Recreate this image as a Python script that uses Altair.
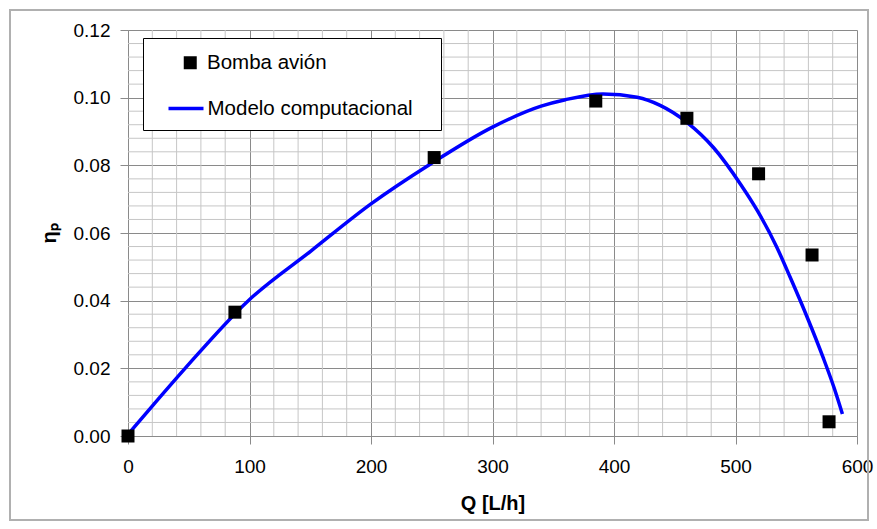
import altair as alt
import pandas as pd

# ---- data ----
serie_exp = "Bomba avión"
serie_mod = "Modelo computacional"

Q_exp = [0, 88, 252, 385, 460, 519, 563, 577]
eta_exp = [0.000, 0.0366, 0.0823, 0.0990, 0.0939, 0.0775, 0.0535, 0.0042]

Q_mod = [0, 21, 47, 99, 151, 200, 249, 300, 340, 360, 391, 419, 438, 460,
         482, 504, 518, 534, 545, 559, 572, 581, 588]
eta_mod = [0.0005, 0.0093, 0.0200, 0.0400, 0.0548, 0.0686, 0.0804, 0.0913,
           0.0975, 0.0994, 0.1011, 0.1001, 0.0977, 0.0927, 0.0852, 0.0745,
           0.0666, 0.0558, 0.0469, 0.0351, 0.0233, 0.0144, 0.0065]

x_labels = [0, 100, 200, 300, 400, 500, 600]
y_labels = [0.00, 0.02, 0.04, 0.06, 0.08, 0.10, 0.12]
x_minor = [20, 40, 60, 80, 120, 140, 160, 180, 220, 240, 260, 280, 320, 340,
           360, 380, 420, 440, 460, 480, 520, 540, 560, 580]
y_minor = [0.004, 0.008, 0.012, 0.016, 0.024, 0.028, 0.032, 0.036, 0.044,
           0.048, 0.052, 0.056, 0.064, 0.068, 0.072, 0.076, 0.084, 0.088,
           0.092, 0.096, 0.104, 0.108, 0.112, 0.116]

df_exp = pd.DataFrame({"Q": Q_exp, "eta": eta_exp, "serie_p": serie_exp})
df_mod = pd.DataFrame({"Q": Q_mod, "eta": eta_mod, "serie_l": serie_mod})

FONT = "Liberation Sans"
MAJ = "#8a8a8a"
MIN = "#c6c6c6"

x_scale = alt.Scale(domain=[0, 600], nice=False, zero=False)
y_scale = alt.Scale(domain=[0, 0.12], nice=False, zero=False)

x_axis = alt.Axis(
    values=x_labels, tickCount=50, title="Q [L/h]", format="d",
    labelOverlap=False, labelFlush=False,
    grid=True, gridColor=MAJ, gridWidth=1,
    tickColor=MAJ, tickSize=8, domainColor=MAJ,
    labelFont=FONT, labelFontSize=19, labelColor="black", labelPadding=13,
    titleFont=FONT, titleFontSize=20, titleFontWeight="bold", titleColor="black",
    titlePadding=17,
)
y_axis = alt.Axis(
    values=y_labels, tickCount=50, title="ηₚ", format=".2f",
    labelOverlap=False, labelFlush=False,
    grid=True, gridColor=MAJ, gridWidth=1,
    tickColor=MAJ, tickSize=8, domainColor=MAJ,
    labelFont=FONT, labelFontSize=19, labelColor="black", labelPadding=10,
    titleFont=FONT, titleFontSize=20, titleFontWeight="bold", titleColor="black",
    titlePadding=14,
)

one = pd.DataFrame({"a": [0]})

frame = alt.Chart(one).mark_rect(fill=None, stroke="#b0b0b0", strokeWidth=2).encode(
    x=alt.value(-118), x2=alt.value(740), y=alt.value(-20), y2=alt.value(490)
)

vgrid = alt.Chart(pd.DataFrame({"Q": x_minor})).mark_rule(color=MIN, strokeWidth=1).encode(
    x=alt.X("Q:Q", scale=x_scale, axis=x_axis)
)
hgrid = alt.Chart(pd.DataFrame({"eta": y_minor})).mark_rule(color=MIN, strokeWidth=1).encode(
    y=alt.Y("eta:Q", scale=y_scale, axis=y_axis)
)

legend_box = alt.Chart(one).mark_rect(fill="white", stroke="black", strokeWidth=1).encode(
    x=alt.value(15.5), x2=alt.value(313.5), y=alt.value(8.5), y2=alt.value(100.5)
)

line = alt.Chart(df_mod).mark_line(color="#0000ff", strokeWidth=3.5, interpolate="monotone").encode(
    x=alt.X("Q:Q", scale=x_scale, axis=x_axis),
    y=alt.Y("eta:Q", scale=y_scale, axis=y_axis),
    color=alt.Color("serie_l:N", scale=alt.Scale(domain=[serie_mod], range=["#0000ff"]),
                    legend=alt.Legend(orient="none", legendX=38.5, legendY=59, title=None,
                                      symbolType="stroke", symbolSize=1225, symbolStrokeWidth=3.5,
                                      labelFont=FONT, labelFontSize=20.5, labelColor="black",
                                      labelOffset=2, labelLimit=400, padding=0)),
    order=alt.Order("Q:Q"),
)

points = alt.Chart(df_exp).mark_point(filled=True, shape="square", size=169, color="black", opacity=1).encode(
    x=alt.X("Q:Q", scale=x_scale, axis=x_axis),
    y=alt.Y("eta:Q", scale=y_scale, axis=y_axis),
    shape=alt.Shape("serie_p:N", scale=alt.Scale(domain=[serie_exp], range=["square"]),
                    legend=alt.Legend(orient="none", legendX=52, legendY=22.5, title=None,
                                      symbolSize=169, symbolFillColor="black",
                                      symbolStrokeColor="black", symbolStrokeWidth=0,
                                      symbolOpacity=1,
                                      labelFont=FONT, labelFontSize=20.5, labelColor="black",
                                      labelOffset=6.5, labelLimit=400, padding=0)),
)

chart = alt.layer(frame, vgrid, hgrid, legend_box, line, points).properties(
    width=729, height=406,
    autosize=alt.AutoSizeParams(type="none"),
    padding={"left": 128, "top": 30, "right": 20, "bottom": 93},
    background="white",
).configure_view(stroke=None)

chart.save("out.html", embed_options={"renderer": "svg", "actions": False})
